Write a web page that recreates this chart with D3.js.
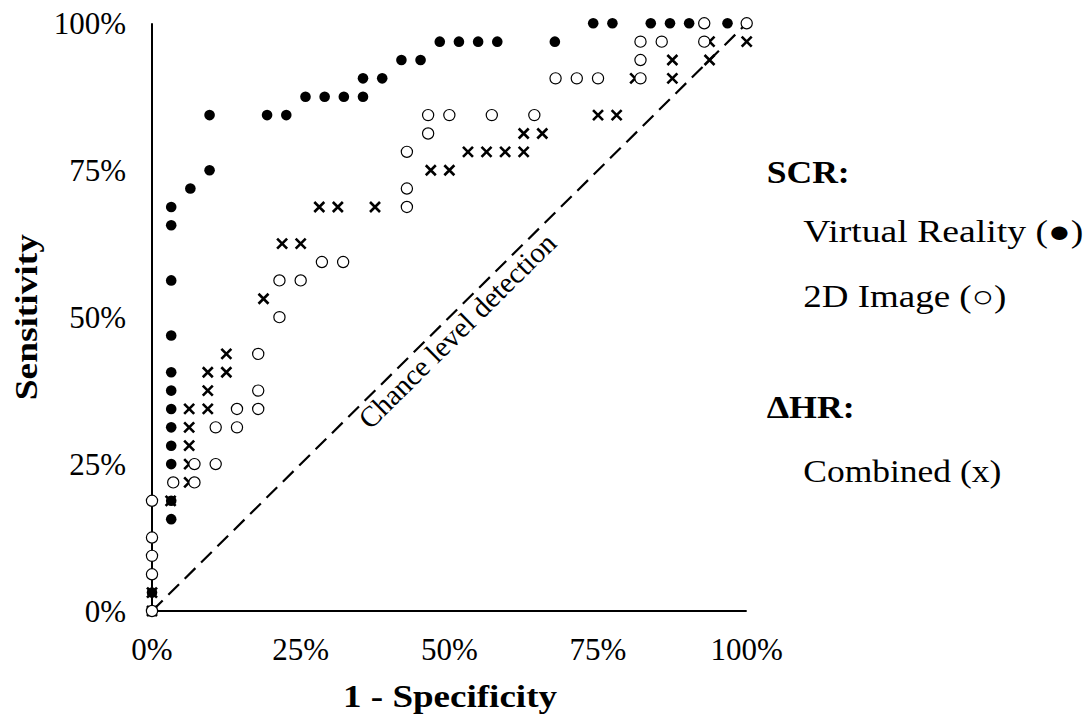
<!DOCTYPE html>
<html>
<head>
<meta charset="utf-8">
<script src="https://cdn.jsdelivr.net/npm/d3@7"></script>
<style>
  html, body { margin: 0; padding: 0; background: #fff; }
  svg { display: block; }
  text { font-family: "Liberation Serif", "Times New Roman", serif; fill: #000; }
</style>
</head>
<body>
<svg id="chart" width="1089" height="717"></svg>
<script>
// ---- Data (percent) ----
const tickValues = [0, 25, 50, 75, 100];
const tickLabels = ["0%", "25%", "50%", "75%", "100%"];

// SCR: Virtual Reality (filled dots)
const vrFpr = [0, 0, 3.23, 3.23, 3.23, 3.23, 3.23, 3.23, 3.23, 3.23, 3.23, 3.23, 3.23, 3.23,
  6.45, 9.68, 9.68, 19.35, 22.58, 25.81, 29.03, 32.26, 35.48, 35.48, 38.71, 41.94, 45.16,
  48.39, 51.61, 54.84, 58.06, 67.74, 74.19, 77.42, 83.87, 87.10, 90.32, 96.77, 100];
const vrTpr = [0, 3.13, 15.63, 18.75, 25, 28.13, 31.25, 34.38, 37.5, 40.63, 46.88, 56.25, 65.63, 68.75,
  71.88, 75, 84.38, 84.38, 84.38, 87.5, 87.5, 87.5, 87.5, 90.63, 90.63, 93.75, 93.75,
  96.88, 96.88, 96.88, 96.88, 96.88, 100, 100, 100, 100, 100, 100, 100];

// SCR: 2D Image (open circles)
const imgFpr = [0, 0, 0, 0, 0, 3.57, 7.14, 7.14, 10.71, 10.71, 14.29, 14.29, 17.86, 17.86, 17.86,
  21.43, 21.43, 25, 28.57, 32.14, 42.86, 42.86, 42.86, 46.43, 46.43, 50, 57.14, 64.29,
  67.86, 71.43, 75, 82.14, 82.14, 82.14, 85.71, 92.86, 92.86, 100];
const imgTpr = [0, 6.25, 9.38, 12.5, 18.75, 21.88, 21.88, 25, 25, 31.25, 31.25, 34.38, 34.38, 37.5, 43.75,
  50, 56.25, 56.25, 59.38, 59.38, 68.75, 71.88, 78.13, 81.25, 84.38, 84.38, 84.38, 84.38,
  90.63, 90.63, 90.63, 90.63, 93.75, 96.88, 96.88, 96.88, 100, 100];

// ΔHR: Combined (x marks)
const combFpr = [0, 0, 3.13, 6.25, 6.25, 6.25, 6.25, 6.25, 9.38, 9.38, 9.38, 12.5, 12.5, 18.75,
  21.88, 25, 28.13, 31.25, 37.5, 46.88, 50, 53.13, 56.25, 59.38, 62.5, 62.5, 65.63,
  75, 78.13, 81.25, 87.5, 87.5, 93.75, 93.75, 100];
const combTpr = [0, 3.13, 18.75, 21.88, 25, 28.13, 31.25, 34.38, 34.38, 37.5, 40.63, 40.63, 43.75, 53.13,
  62.5, 62.5, 68.75, 68.75, 68.75, 75, 75, 78.13, 78.13, 78.13, 78.13, 81.25, 81.25,
  84.38, 84.38, 90.63, 90.63, 93.75, 93.75, 96.88, 96.88];

const chanceLine = [0, 100];

// ---- Layout ----
const svg = d3.select("#chart");
const x = d3.scaleLinear().domain([0, 100]).range([152, 746.7]);
const y = d3.scaleLinear().domain([0, 100]).range([611, 23.3]);

// axis lines
svg.append("line").attr("x1", x(0)).attr("x2", x(0)).attr("y1", y(0)).attr("y2", y(100))
  .attr("stroke", "#000").attr("stroke-width", 2);
svg.append("line").attr("x1", x(0)).attr("x2", x(100)).attr("y1", y(0)).attr("y2", y(0))
  .attr("stroke", "#000").attr("stroke-width", 2);

// tick labels
svg.append("g").selectAll("text").data(tickValues).join("text")
  .attr("x", 126).attr("y", d => y(d)).attr("dy", "0.34em")
  .attr("text-anchor", "end").attr("font-size", 31)
  .text((d, i) => tickLabels[i]);
svg.append("g").selectAll("text").data(tickValues).join("text")
  .attr("x", d => x(d)).attr("y", 660)
  .attr("text-anchor", "middle").attr("font-size", 31)
  .text((d, i) => tickLabels[i]);

// chance line
svg.append("line")
  .attr("x1", x(chanceLine[0])).attr("y1", y(chanceLine[0]))
  .attr("x2", x(chanceLine[1])).attr("y2", y(chanceLine[1]))
  .attr("stroke", "#000").attr("stroke-width", 2.2).attr("stroke-dasharray", "15,8");

const ang = Math.atan2(y(100) - y(0), x(100) - x(0)) * 180 / Math.PI;
svg.append("text")
  .attr("transform", `translate(${x(50)},${y(50)}) rotate(${ang})`)
  .attr("x", -4).attr("y", 25)
  .attr("text-anchor", "middle").attr("font-size", 29)
  .attr("textLength", 264).attr("lengthAdjust", "spacingAndGlyphs")
  .text("Chance level detection");

// markers: VR dots
svg.append("g").selectAll("circle").data(vrFpr).join("circle")
  .attr("cx", d => x(d)).attr("cy", (d, i) => y(vrTpr[i])).attr("r", 5.3)
  .attr("fill", "#000");

// Combined x marks
const s = 5;
svg.append("g").selectAll("path").data(combFpr).join("path")
  .attr("d", (d, i) => {
    const cx = x(d), cy = y(combTpr[i]);
    return `M${cx - s},${cy - s}L${cx + s},${cy + s}M${cx - s},${cy + s}L${cx + s},${cy - s}`;
  })
  .attr("stroke", "#000").attr("stroke-width", 2.6).attr("fill", "none");

// 2D image open circles
svg.append("g").selectAll("circle").data(imgFpr).join("circle")
  .attr("cx", d => x(d)).attr("cy", (d, i) => y(imgTpr[i])).attr("r", 5.6)
  .attr("fill", "#fff").attr("stroke", "#000").attr("stroke-width", 1.2);

// axis titles
svg.append("text")
  .attr("transform", `translate(37,${(y(0) + y(100)) / 2}) rotate(-90)`)
  .attr("text-anchor", "middle").attr("font-size", 31).attr("font-weight", "bold")
  .attr("textLength", 166).attr("lengthAdjust", "spacingAndGlyphs")
  .text("Sensitivity");
svg.append("text")
  .attr("x", 450).attr("y", 707)
  .attr("text-anchor", "middle").attr("font-size", 31).attr("font-weight", "bold")
  .attr("textLength", 214).attr("lengthAdjust", "spacingAndGlyphs")
  .text("1 - Specificity");

// legend
const legendItems = [
  { t: "SCR:", x: 766.7, y: 183.3, w: 83, bold: true },
  { t: "Virtual Reality (●)", x: 803.3, y: 241.7, w: 280, bold: false },
  { t: "2D Image (○)", x: 803.3, y: 306.7, w: 203, bold: false },
  { t: "ΔHR:", x: 766.7, y: 418.3, w: 88, bold: true },
  { t: "Combined (x)", x: 803.3, y: 482, w: 198, bold: false }
];
svg.append("g").selectAll("text").data(legendItems).join("text")
  .attr("x", d => d.x).attr("y", d => d.y)
  .attr("font-size", 31)
  .attr("font-weight", d => d.bold ? "bold" : "normal")
  .attr("textLength", d => d.w).attr("lengthAdjust", "spacingAndGlyphs")
  .text(d => d.t);
</script>
</body>
</html>
